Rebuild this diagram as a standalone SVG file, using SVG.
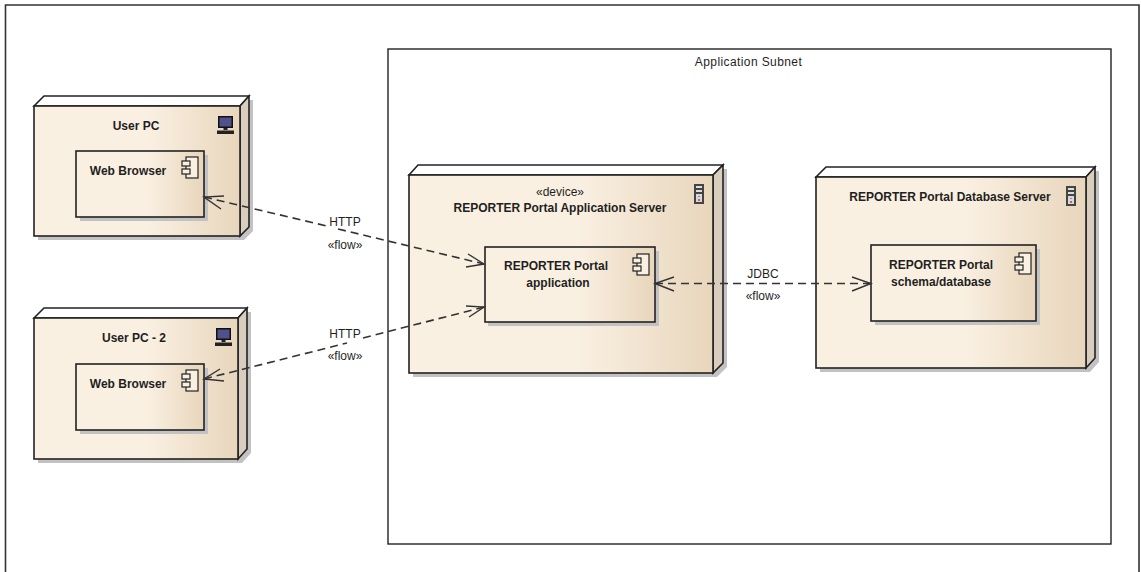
<svg xmlns="http://www.w3.org/2000/svg" width="1141" height="572" viewBox="0 0 1141 572">
<style>
text{font-family:"Liberation Sans",Arial,sans-serif;font-size:12px;fill:#1f1f1f;text-anchor:middle}
.b{font-weight:bold}
.n{stroke:#222;stroke-width:1.6;stroke-linejoin:miter}
.front{fill:url(#g)}
.top{fill:#fff}
.side{fill:#d9cdbd}
.shadow{fill:#c2c2c2}
.icon{fill:#faf0e2;stroke:#222;stroke-width:1.2}
.c{fill:none;stroke:#333;stroke-width:1.6;stroke-dasharray:8 5}
.h{fill:none;stroke:#333;stroke-width:1.4}
</style>
<defs>
<linearGradient id="g" x1="0" x2="1" y1="0" y2="0">
<stop offset="0" stop-color="#faf0e2"/><stop offset="0.55" stop-color="#faf0e2"/><stop offset="1" stop-color="#e8d6bc"/>
</linearGradient>
<g id="comp">
<rect class="icon" x="4" y="0" width="12" height="21"/>
<rect class="icon" x="0" y="4" width="8" height="5"/>
<rect class="icon" x="0" y="12" width="8" height="5"/>
</g>
<g id="pc">
<rect x="1" y="0" width="15" height="12" fill="#111"/>
<rect x="2.500" y="1.500" width="12" height="9" fill="#50508c"/>
<rect x="6.500" y="12" width="4" height="2" fill="#222"/>
<rect x="0" y="14.500" width="17" height="3.500" fill="#222"/>
</g>
<g id="srv">
<rect x="0" y="0" width="10" height="20" fill="#444"/>
<rect x="2" y="2" width="6" height="2" fill="#ddd"/>
<rect x="2" y="6" width="6" height="2" fill="#ddd"/>
<rect x="2" y="10" width="6" height="8" fill="#d8d8d8"/>
<rect x="4" y="12" width="2" height="1" fill="#88a"/>
<rect x="4" y="15" width="2" height="2" fill="#d55"/>
</g>
</defs>
<rect width="1141" height="572" fill="#fff"/>
<path d="M5.500 572V5H1139V572" fill="none" stroke="#333" stroke-width="1.6"/>
<g id="subnet">
<rect x="388" y="49" width="723" height="495" fill="#fff" stroke="#222" stroke-width="1.4"/>
<text x="748.500" y="65.500" letter-spacing=".4">Application Subnet</text>
</g>
<g id="user-pc">
<path class="shadow" transform="translate(4 4)" d="M34 106L44 96H249V227L240 236H34Z"/>
<path class="n top" d="M34 106L44 96H249L240 106Z"/>
<path class="n side" d="M240 106L249 96V227L240 236Z"/>
<rect class="n front" x="34" y="106" width="206" height="130"/>
<text class="b" x="136" y="130">User PC</text>
<use href="#pc" x="217" y="116"/>
<g id="browser-1">
<rect class="shadow" x="80" y="155" width="128" height="66"/>
<rect class="n front" x="76" y="151" width="128" height="66"/>
<text class="b" x="128" y="175">Web Browser</text>
<use href="#comp" x="182" y="157"/>
</g>
</g>
<g id="user-pc-2">
<path class="shadow" transform="translate(4 4)" d="M34 318L44 308H247V449L238 459H34Z"/>
<path class="n top" d="M34 318L44 308H247L238 318Z"/>
<path class="n side" d="M238 318L247 308V449L238 459Z"/>
<rect class="n front" x="34" y="318" width="204" height="141"/>
<text class="b" x="134" y="342">User PC - 2</text>
<use href="#pc" x="215" y="328"/>
<g id="browser-2">
<rect class="shadow" x="80" y="368" width="128" height="66"/>
<rect class="n front" x="76" y="364" width="128" height="66"/>
<text class="b" x="128" y="388">Web Browser</text>
<use href="#comp" x="182" y="370"/>
</g>
</g>
<g id="app-server">
<path class="shadow" transform="translate(4 4)" d="M409 175L418 165H723V363L713 373H409Z"/>
<path class="n top" d="M409 175L418 165H723L713 175Z"/>
<path class="n side" d="M713 175L723 165V363L713 373Z"/>
<rect class="n front" x="409" y="175" width="304" height="198"/>
<text x="560" y="196">«device»</text>
<text class="b" x="560" y="212">REPORTER Portal Application Server</text>
<use href="#srv" x="694" y="184"/>
<g id="app">
<rect class="shadow" x="488" y="251" width="171" height="75"/>
<rect class="n front" x="485" y="247" width="170" height="75"/>
<text class="b" x="556" y="270">REPORTER Portal</text>
<text class="b" x="558" y="287">application</text>
<use href="#comp" x="633" y="254"/>
</g>
</g>
<g id="db-server">
<path class="shadow" transform="translate(4 4)" d="M816 177L826 167H1095V358L1086 368H816Z"/>
<path class="n top" d="M816 177L826 167H1095L1086 177Z"/>
<path class="n side" d="M1086 177L1095 167V358L1086 368Z"/>
<rect class="n front" x="816" y="177" width="270" height="191"/>
<text class="b" x="950" y="201">REPORTER Portal Database Server</text>
<use href="#srv" x="1066" y="186"/>
<g id="schema">
<rect class="shadow" x="875" y="249" width="165" height="76"/>
<rect class="n front" x="871" y="245" width="165" height="76"/>
<text class="b" x="941" y="269">REPORTER Portal</text>
<text class="b" x="941" y="286">schema/database</text>
<use href="#comp" x="1015" y="253"/>
</g>
</g>
<g id="connectors">
<path class="c" d="M204 197L327 226M338 229L484 264"/>
<path class="h" d="M224 196L204 197L221 209M468 254L484 264L466 267"/>
<path class="c" d="M204 379L347 343M363 338L484 307"/>
<path class="h" d="M220 369L204 379L224 381M466 306L484 307L469 317"/>
<path class="c" d="M655 283.500H871"/>
<path class="h" d="M674 277L655 283.500L674 291M852 277L871 283.500L852 291"/>
<text x="345" y="226">HTTP</text>
<text x="345" y="249">«flow»</text>
<text x="345" y="338">HTTP</text>
<text x="345" y="360">«flow»</text>
<text x="763" y="278">JDBC</text>
<text x="763" y="300">«flow»</text>
</g>
</svg>
